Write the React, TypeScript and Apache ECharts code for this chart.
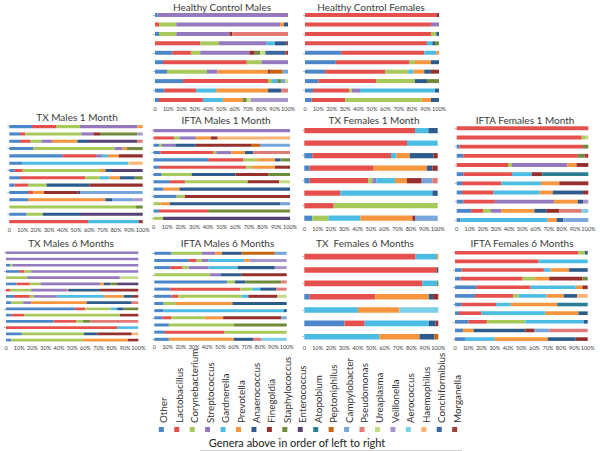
import React, { useEffect, useRef } from 'react';
import * as echarts from 'echarts';

const GENERA = [
  'Other', 'Lactobacillus', 'Corynebacterium', 'Streptococcus', 'Gardnerella',
  'Prevotella', 'Anaerococcus', 'Finegoldia', 'Staphylococcus', 'Enterococcus',
  'Atopobium', 'Peptoniphilus', 'Campylobacter', 'Pseudomonas', 'Ureaplasma',
  'Veillonella', 'Aerococcus', 'Haemophilus', 'Conchiformibius', 'Morganella',
];

const COLORS = [
  '#4A86C8', '#E5504D', '#A6C95A', '#9479BF', '#4DBCE3',
  '#F7963F', '#2D5B8C', '#96302D', '#6E8A3A', '#574274',
  '#2A7F96', '#C8640E', '#78A5DA', '#E27A78', '#C2DC84',
  '#A995CE', '#7ACFEA', '#FAB272', '#3C66A0', '#A53C38',
];

type Seg = [number, number]; // [genus index, percent]

const HC_MALES: Seg[][] = [
  [[0, 2], [3, 98]],
  [[1, 3], [2, 13], [3, 78], [5, 3], [6, 3]],
  [[0, 3], [2, 13], [3, 40], [7, 2], [13, 42]],
  [[1, 34], [2, 14], [3, 36], [4, 6], [6, 9], [7, 1]],
  [[0, 13], [1, 14], [2, 7], [3, 37], [7, 4], [8, 4], [14, 4], [18, 15], [19, 2]],
  [[0, 6], [1, 63], [2, 11], [3, 20]],
  [[0, 9], [2, 30], [3, 8], [5, 38], [7, 2], [11, 9], [12, 4]],
  [[0, 21], [1, 64], [2, 3], [4, 4], [8, 3], [12, 3], [14, 2]],
  [[0, 7], [1, 24], [4, 15], [5, 39], [6, 10], [13, 5]],
  [[0, 3], [1, 33], [4, 15], [5, 15], [8, 3], [14, 3], [15, 28]],
];

const HC_FEMALES: Seg[][] = [
  [[1, 98], [7, 2]],
  [[1, 94], [3, 6]],
  [[1, 94], [2, 4], [6, 2]],
  [[1, 91], [4, 4], [6, 2], [8, 3]],
  [[0, 27], [1, 62], [4, 9], [5, 2]],
  [[0, 23], [1, 55], [2, 4], [5, 12], [6, 6]],
  [[0, 15], [1, 45], [2, 17], [4, 4], [5, 8], [6, 5], [7, 6]],
  [[0, 10], [1, 43], [2, 29], [6, 9], [8, 9]],
  [[0, 6], [1, 27], [2, 2], [3, 6], [4, 56], [6, 3]],
  [[0, 5], [1, 25], [2, 57], [5, 7], [6, 6]],
];

const TX_MALES_1M: Seg[][] = [
  [[0, 17], [1, 18], [2, 18], [3, 43], [5, 4]],
  [[0, 8], [1, 4], [2, 42], [3, 9], [7, 5], [8, 28], [15, 4]],
  [[0, 8], [1, 8], [2, 8], [3, 8], [5, 19], [6, 8], [9, 37], [13, 4]],
  [[0, 18], [2, 61], [3, 6], [5, 3], [8, 12]],
  [[0, 40], [1, 25], [3, 5], [4, 4], [5, 8], [7, 18]],
  [[0, 10], [4, 79], [14, 1], [17, 10]],
  [[0, 4], [1, 6], [2, 58], [5, 4], [6, 5], [9, 23]],
  [[0, 8], [1, 49], [2, 11], [4, 7], [5, 8], [6, 11], [8, 6]],
  [[0, 4], [1, 10], [2, 14], [6, 32], [7, 40]],
  [[0, 14], [1, 4], [5, 8], [7, 25], [9, 2], [12, 47]],
  [[0, 14], [5, 58], [6, 5], [12, 16], [15, 7]],
  [[2, 95], [8, 5]],
  [[0, 13], [2, 12], [6, 28], [9, 47]],
  [[1, 59], [4, 38], [7, 3]],
];

const IFTA_MALES_1M: Seg[][] = [
  [[3, 100]],
  [[1, 15], [2, 4], [3, 12], [5, 11], [7, 5], [17, 53]],
  [[0, 4], [2, 2], [3, 10], [6, 15], [7, 41], [11, 6], [12, 22]],
  [[0, 5], [1, 39], [2, 2], [3, 11], [5, 10], [6, 6], [13, 27]],
  [[0, 40], [1, 26], [2, 10], [5, 13], [6, 4], [8, 7]],
  [[0, 4], [1, 64], [2, 4], [5, 17], [7, 11]],
  [[0, 6], [2, 22], [6, 32], [7, 24], [8, 16]],
  [[0, 12], [1, 11], [2, 46], [7, 23], [14, 8]],
  [[0, 7], [5, 12], [6, 81]],
  [[0, 17], [2, 6], [7, 77]],
  [[2, 5], [5, 7], [6, 81], [12, 7]],
  [[0, 4], [1, 36], [8, 60]],
  [[2, 7], [9, 93]],
];

const TX_FEMALES_1M: Seg[][] = [
  [[1, 83], [4, 10], [6, 7]],
  [[1, 77], [4, 23]],
  [[0, 6], [1, 59], [4, 4], [5, 10], [6, 18], [7, 3]],
  [[0, 4], [1, 48], [5, 40], [6, 4], [7, 4]],
  [[0, 4], [1, 44], [2, 3], [3, 3], [4, 14], [5, 9], [7, 11], [12, 8], [13, 4]],
  [[1, 27], [4, 69], [6, 4]],
  [[1, 22], [2, 78]],
  [[0, 6], [2, 12], [4, 24], [5, 39], [7, 2], [12, 17]],
];

const IFTA_FEMALES_1M: Seg[][] = [
  [[1, 100]],
  [[1, 95], [2, 3], [14, 2]],
  [[0, 2], [1, 94], [8, 4]],
  [[0, 5], [1, 87], [8, 5], [19, 3]],
  [[1, 39], [2, 3], [3, 42], [5, 7], [7, 9]],
  [[0, 5], [1, 37], [4, 15], [7, 8], [10, 35]],
  [[0, 4], [1, 30], [4, 30], [5, 14], [7, 22]],
  [[0, 4], [1, 24], [4, 35], [5, 10], [6, 23], [7, 4]],
  [[0, 5], [1, 24], [3, 45], [5, 18], [6, 4], [15, 4]],
  [[0, 11], [1, 9], [2, 6], [3, 8], [5, 25], [6, 9], [7, 10], [13, 17], [16, 5]],
  [[0, 3], [4, 66], [5, 7], [6, 5], [12, 19]],
];

const TX_MALES_6M: Seg[][] = [
  [[3, 100]],
  [[3, 100]],
  [[0, 3], [2, 2], [3, 95]],
  [[0, 10], [1, 4], [2, 5], [3, 81]],
  [[2, 16], [3, 70], [14, 14]],
  [[0, 8], [1, 10], [2, 8], [3, 45], [5, 3], [6, 5], [8, 5], [9, 16]],
  [[1, 3], [2, 16], [3, 27], [5, 1], [6, 24], [7, 29]],
  [[0, 6], [1, 12], [2, 3], [3, 18], [4, 35], [5, 15], [6, 7], [7, 4]],
  [[0, 4], [2, 9], [3, 6], [5, 42], [6, 34], [13, 5]],
  [[0, 52], [1, 8], [2, 19], [4, 5], [6, 5], [8, 11]],
  [[0, 4], [1, 10], [2, 72], [7, 14]],
  [[0, 36], [1, 17], [2, 5], [8, 6], [13, 36]],
  [[1, 84], [4, 16]],
  [[0, 12], [2, 47], [6, 10], [7, 26], [17, 5]],
  [[0, 4], [2, 54], [5, 34], [7, 8]],
];

const IFTA_MALES_6M: Seg[][] = [
  [[0, 13], [2, 23], [3, 10], [5, 5], [6, 15], [11, 25], [12, 9]],
  [[0, 26], [1, 6], [2, 4], [3, 5], [4, 27], [5, 4], [15, 28]],
  [[0, 12], [1, 9], [2, 5], [3, 15], [4, 22], [6, 28], [15, 9]],
  [[2, 42], [3, 8], [6, 16], [7, 34]],
  [[0, 55], [2, 6], [6, 8], [8, 27], [13, 4]],
  [[0, 12], [1, 53], [2, 9], [4, 6], [6, 12], [13, 8]],
  [[0, 13], [1, 5], [2, 48], [4, 5], [7, 22], [14, 7]],
  [[0, 7], [2, 9], [5, 43], [6, 41]],
  [[0, 7], [4, 91], [6, 2]],
  [[0, 6], [1, 7], [2, 25], [5, 14], [7, 44], [12, 4]],
  [[0, 11], [2, 49], [8, 40]],
  [[0, 8], [1, 45], [2, 47]],
  [[0, 11], [5, 49], [6, 15], [13, 6], [16, 19]],
];

const TX_FEMALES_6M: Seg[][] = [
  [[1, 83], [4, 16], [5, 1]],
  [[1, 99], [6, 1]],
  [[1, 88], [4, 11], [8, 1]],
  [[0, 4], [1, 49], [5, 40], [6, 3], [7, 4]],
  [[4, 40], [5, 31], [16, 29]],
  [[0, 30], [1, 15], [4, 48], [6, 5], [7, 2]],
  [[4, 56], [5, 30], [6, 11], [11, 3]],
];

const IFTA_FEMALES_6M: Seg[][] = [
  [[1, 93], [2, 5], [6, 2]],
  [[1, 63], [4, 37]],
  [[0, 5], [1, 62], [4, 5], [5, 14], [6, 14]],
  [[0, 4], [1, 47], [2, 9], [5, 11], [7, 25], [8, 4]],
  [[0, 16], [1, 41], [4, 34], [5, 5], [7, 4]],
  [[0, 15], [1, 29], [2, 4], [4, 21], [5, 13], [6, 10], [17, 8]],
  [[0, 5], [1, 26], [4, 11], [5, 35], [10, 23]],
  [[0, 3], [1, 17], [4, 48], [5, 25], [6, 7]],
  [[0, 10], [1, 14], [2, 29], [4, 44], [6, 3]],
  [[0, 6], [5, 8], [6, 39], [7, 7], [12, 11], [13, 29]],
  [[0, 8], [4, 22], [5, 40], [6, 21], [7, 9]],
];

const PANEL_TITLES = [
  'Healthy Control Males', 'Healthy Control Females',
  'TX Males 1 Month', 'IFTA Males 1 Month', 'TX Females 1 Month', 'IFTA Females 1 Month',
  'TX Males 6 Months', 'IFTA Males 6 Months', 'TX  Females 6 Months', 'IFTA Females 6 Months',
];

const PANEL_ROWS = [
  HC_MALES, HC_FEMALES,
  TX_MALES_1M, IFTA_MALES_1M, TX_FEMALES_1M, IFTA_FEMALES_1M,
  TX_MALES_6M, IFTA_MALES_6M, TX_FEMALES_6M, IFTA_FEMALES_6M,
];

const LEGEND_NOTE = 'Genera above in order of left to right';

// layout: plot area (left, top, width, height) and title centre (tx, ty)
const LAYOUT = [
  { left: 155, top: 10.3, width: 133, height: 94.4, tx: 222, ty: 6.5 },
  { left: 305, top: 10.3, width: 134, height: 94.4, tx: 371, ty: 6.5 },
  { left: 9.3, top: 123.0, width: 133.4, height: 102.3, tx: 77, ty: 117 },
  { left: 153.5, top: 127.0, width: 136.5, height: 95.0, tx: 226, ty: 120 },
  { left: 304.3, top: 124.4, width: 133.4, height: 100.1, tx: 374, ty: 120 },
  { left: 456.7, top: 123.7, width: 131.6, height: 100.9, tx: 525, ty: 119.5 },
  { left: 6, top: 249.6, width: 132.3, height: 93.6, tx: 71, ty: 243 },
  { left: 154.3, top: 249.7, width: 132.4, height: 93.2, tx: 227.5, ty: 243 },
  { left: 304.3, top: 250.0, width: 134, height: 93.4, tx: 365, ty: 243 },
  { left: 455, top: 248.4, width: 132.7, height: 95.0, tx: 522, ty: 243 },
];

const FONT = 'Lato, "Liberation Sans", sans-serif';

function buildOption() {
  const grid: any[] = [];
  const xAxis: any[] = [];
  const yAxis: any[] = [];
  const series: any[] = [];
  const graphic: any[] = [];

  PANEL_ROWS.forEach((rows, p) => {
    const L = LAYOUT[p];
    grid.push({ left: L.left, top: L.top, width: L.width, height: L.height, containLabel: false });
    xAxis.push({
      type: 'value', gridIndex: p, min: 0, max: 100, interval: 10,
      axisLine: { show: false }, axisTick: { show: false }, splitLine: { show: false },
      axisLabel: {
        margin: 1.5, fontSize: 5.5, color: '#404040', fontFamily: FONT,
        formatter: (v: number) => (v === 0 ? '0' : v + '%'),
      },
    });
    yAxis.push({
      type: 'category', gridIndex: p, inverse: true, offset: 2,
      data: rows.map((_, i) => String(i + 1)),
      axisLine: { show: false },
      axisTick: { show: true, length: 2, alignWithLabel: true, lineStyle: { color: '#a0a0a0', width: 0.8 } },
      axisLabel: { show: false },
      splitLine: { show: false },
    });
    GENERA.forEach((g, gi) => {
      const data = rows.map((r) => {
        const s = r.find((seg) => seg[0] === gi);
        return s ? s[1] : 0;
      });
      if (data.every((d) => d === 0)) return;
      series.push({
        type: 'bar', name: g, xAxisIndex: p, yAxisIndex: p, stack: 'panel' + p,
        data, barCategoryGap: '58%', silent: true,
        itemStyle: { color: COLORS[gi] },
      });
    });
    graphic.push({
      type: 'text', x: L.tx, y: L.ty, silent: true,
      style: {
        text: PANEL_TITLES[p], align: 'center', verticalAlign: 'middle',
        fontSize: 10, fontFamily: FONT, fill: '#3a3a3a',
      },
    });
  });

  // legend (rotated labels + coloured squares)
  GENERA.forEach((g, gi) => {
    const cx = 163.3 + 15.44 * gi;
    graphic.push({
      type: 'text', x: cx, y: 423, rotation: Math.PI / 2, silent: true,
      style: {
        text: g, align: 'left', verticalAlign: 'middle',
        fontSize: 9.8, fontFamily: FONT, fill: '#333333',
      },
    });
    graphic.push({
      type: 'rect', silent: true,
      shape: { x: cx - 4.5, y: 427, width: 5, height: 5 },
      style: { fill: COLORS[gi] },
    });
  });
  graphic.push({
    type: 'text', x: 297, y: 442, silent: true,
    style: {
      text: LEGEND_NOTE, align: 'center', verticalAlign: 'middle',
      fontSize: 11, fontFamily: FONT, fill: '#222222',
    },
  });
  graphic.push({
    type: 'line', silent: true,
    shape: { x1: 200, y1: 450.5, x2: 462, y2: 450.5 },
    style: { stroke: '#d0d0d0', lineWidth: 1 },
  });

  return {
    animation: false,
    backgroundColor: '#ffffff',
    grid, xAxis, yAxis, series, graphic,
  };
}

export default function App() {
  const ref = useRef<HTMLDivElement>(null);
  useEffect(() => {
    if (!ref.current) return;
    const chart = echarts.init(ref.current, null, { renderer: 'svg' });
    chart.setOption(buildOption() as any);
    return () => chart.dispose();
  }, []);
  return (
    <div
      ref={ref}
      style={{ position: 'fixed', left: 0, top: 0, width: 600, height: 451, background: '#fff' }}
    />
  );
}
